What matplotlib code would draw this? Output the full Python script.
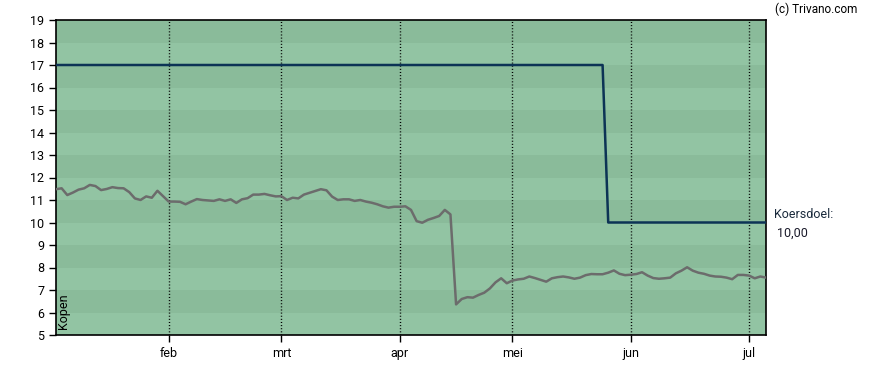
import matplotlib.pyplot as plt
import numpy as np
import pandas as pd

# trading days (Euronext), Jan 6 - Jul 4 2025
holidays = ['2025-04-18', '2025-04-21', '2025-05-01']
dates = pd.bdate_range('2025-01-06', '2025-07-04')
dates = dates[~dates.isin(pd.to_datetime(holidays))]

price = [
    11.48, 11.52, 11.22, 11.33, 11.46, 11.52, 11.67, 11.62, 11.44, 11.49,
    11.57, 11.53, 11.52, 11.35, 11.07, 11.00, 11.16, 11.10, 11.41, 11.17,
    10.93, 10.93, 10.92, 10.81, 10.93, 11.04, 11.00, 10.98, 10.96, 11.03,
    10.96, 11.03, 10.87, 11.03, 11.08, 11.24, 11.24, 11.27, 11.21, 11.16,
    11.17, 11.00, 11.10, 11.07, 11.24, 11.32, 11.40, 11.48, 11.43, 11.15,
    11.00, 11.03, 11.03, 10.96, 11.00, 10.93, 10.88, 10.81, 10.72, 10.66,
    10.70, 10.70, 10.72, 10.56, 10.06, 9.99, 10.12, 10.20, 10.29, 10.56,
    10.36, 6.36, 6.60, 6.68, 6.66, 6.78, 6.88, 7.07, 7.34, 7.52,
    7.30, 7.42, 7.47, 7.50, 7.60, 7.53, 7.45, 7.37, 7.52, 7.57,
    7.60, 7.56, 7.50, 7.55, 7.66, 7.71, 7.70, 7.70, 7.77, 7.87,
    7.72, 7.66, 7.68, 7.71, 7.79, 7.64, 7.53, 7.50, 7.52, 7.55,
    7.74, 7.86, 8.01, 7.86, 7.77, 7.72, 7.64, 7.60, 7.59, 7.55,
    7.48, 7.67, 7.67, 7.64, 7.52, 7.60, 7.55,
]
target = [17.0] * 98 + [10.0] * 29
months_nl = ['jan', 'feb', 'mrt', 'apr', 'mei', 'jun', 'jul']

x = np.arange(len(dates))
month_idx = [i for i in range(1, len(dates)) if dates[i].month != dates[i - 1].month]
month_lbl = [months_nl[dates[i].month - 1] for i in month_idx]

plt.rcParams['font.family'] = ['Roboto', 'DejaVu Sans']

fig = plt.figure(figsize=(8.88, 3.7), dpi=100)
ax = fig.add_axes([56 / 888, 35 / 370, 710 / 888, 315 / 370])

# alternating bands
ax.set_facecolor('#92c4a3')
for lo in range(6, 19, 2):
    ax.axhspan(lo, lo + 1, color='#8abb9a', lw=0, zorder=0)

for i in month_idx:
    ax.axvline(i, color='black', ls=(0, (0.75, 1.5)), lw=1, zorder=1)

ax.plot(x, price, color='#6c6c6c', lw=1.8, zorder=3)
ax.plot(x, target, color='#0c3355', lw=1.8, zorder=4)

ax.set_xlim(0, len(dates) - 1)
ax.set_ylim(5, 19)
ax.set_yticks(range(5, 20))
ax.set_xticks(month_idx)
ax.set_xticklabels(month_lbl)
ax.tick_params(axis='both', direction='out', length=5, width=1, labelsize=9, colors='black')
for s in ax.spines.values():
    s.set_linewidth(1.2)
    s.set_color('black')

ax.text(0.002, 0.02, 'Kopen', rotation=90, transform=ax.transAxes,
        fontsize=9, ha='left', va='bottom')
fig.text(775 / 888, 1 - 9 / 370, '(c) Trivano.com', fontsize=8.5, ha='left', va='center')
ax.annotate('Koersdoel:', xy=(1, 10), xycoords=('axes fraction', 'data'),
            xytext=(6, 6), textcoords='offset points', fontsize=9, color='#1a2a3c',
            ha='left', va='center')
ax.annotate('10,00', xy=(1, 10), xycoords=('axes fraction', 'data'),
            xytext=(8, -8), textcoords='offset points', fontsize=9, color='#1a1a2a',
            ha='left', va='center')

plt.savefig('out.png', dpi=100)
